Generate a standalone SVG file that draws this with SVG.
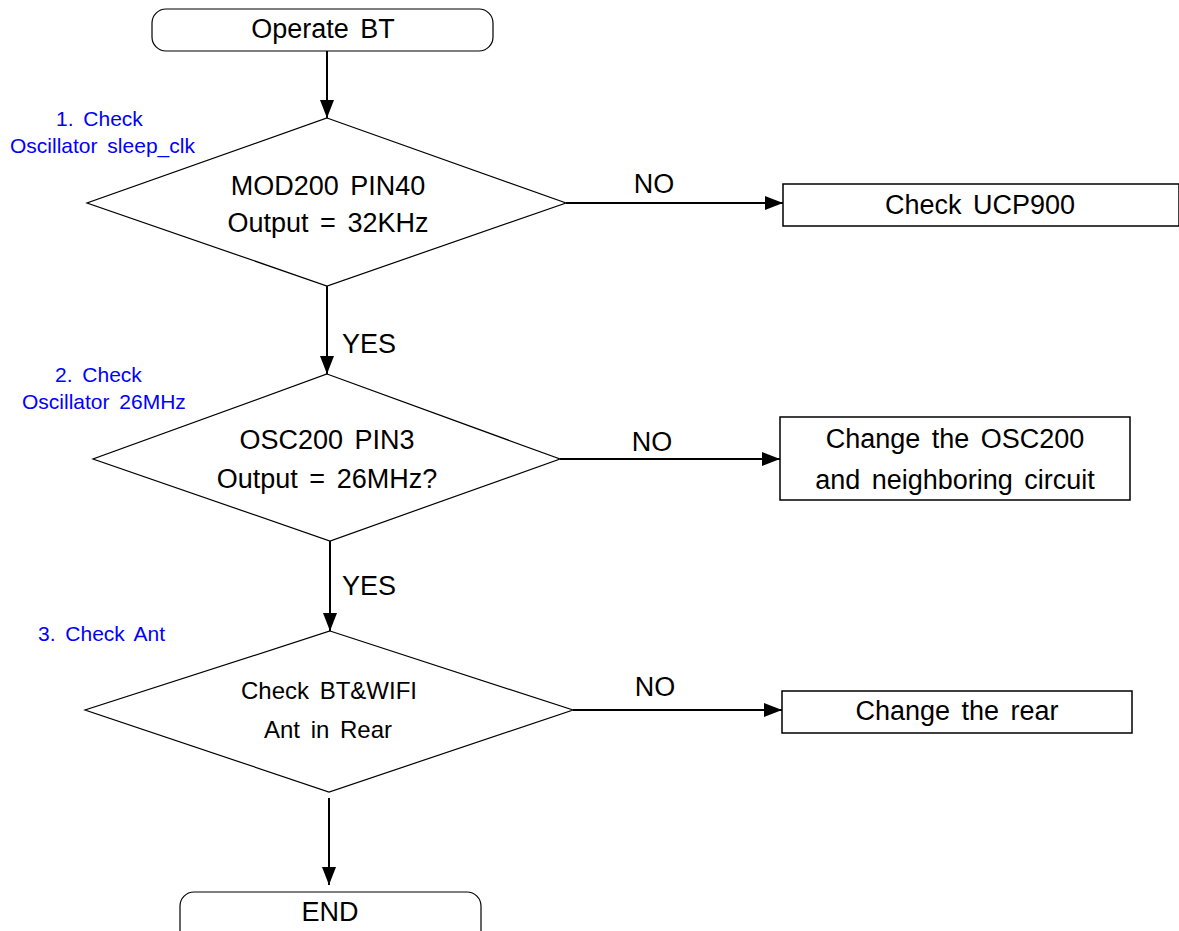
<svg xmlns="http://www.w3.org/2000/svg" width="1179" height="931" viewBox="0 0 1179 931">
<style>
  .shape { fill: #ffffff; stroke: #000000; stroke-width: 1.2; }
  .box { fill: #ffffff; stroke: #000000; stroke-width: 1.5; }
  .t { font-family: "Liberation Sans", Arial, sans-serif; font-size: 27px; fill: #000000; text-anchor: middle; word-spacing: 4px; }
  .ts { font-family: "Liberation Sans", Arial, sans-serif; font-size: 24px; fill: #000000; text-anchor: middle; word-spacing: 4px; }
  .lbl { font-family: "Liberation Sans", Arial, sans-serif; font-size: 21px; fill: #0000ff; word-spacing: 4px; }
  .c { fill: none; stroke: #000000; stroke-width: 2; }
</style>
<defs>
  <marker id="arr" markerUnits="userSpaceOnUse" markerWidth="18" markerHeight="14" refX="18" refY="7" orient="auto">
    <path d="M0,0 L18,7 L0,14 Z" fill="#000000"/>
  </marker>
</defs>
<rect width="1179" height="931" fill="#ffffff"/>

<g id="connectors">
  <path class="c" d="M327,51 L327,118" marker-end="url(#arr)"/>
  <path class="c" d="M327,286 L327,374" marker-end="url(#arr)"/>
  <path class="c" d="M330,541 L330,631" marker-end="url(#arr)"/>
  <path class="c" d="M329,798 L329,885" stroke-width="3" marker-end="url(#arr)"/>
  <path class="c" d="M566,203 L783,203" stroke-width="1.6" marker-end="url(#arr)"/>
  <path class="c" d="M560,459 L780,459" marker-end="url(#arr)"/>
  <path class="c" d="M573,710 L782,710" marker-end="url(#arr)"/>
  <text class="t" x="654" y="193">NO</text>
  <text class="t" x="652" y="451">NO</text>
  <text class="t" x="655" y="696">NO</text>
  <text class="t" x="369" y="353">YES</text>
  <text class="t" x="369" y="595">YES</text>
</g>

<g id="start">
  <rect class="shape" x="152" y="9" width="341" height="42" rx="14" ry="14"/>
  <text class="t" x="323" y="38">Operate BT</text>
</g>

<g id="label1">
  <text class="lbl" x="56" y="126">1. Check</text>
  <text class="lbl" x="10" y="153">Oscillator sleep_clk</text>
</g>

<g id="decision1">
  <polygon class="shape" points="327,118 566,203 327,286 87,203"/>
  <text class="t" x="328" y="195">MOD200 PIN40</text>
  <text class="t" x="328" y="232">Output = 32KHz</text>
</g>

<g id="box1">
  <rect class="box" x="783" y="184" width="396" height="42"/>
  <text class="t" x="980" y="214">Check UCP900</text>
</g>

<g id="label2">
  <text class="lbl" x="55" y="382">2. Check</text>
  <text class="lbl" x="22" y="409">Oscillator 26MHz</text>
</g>

<g id="decision2">
  <polygon class="shape" points="327,374 560,459 330,541 93,459"/>
  <text class="t" x="327" y="449">OSC200 PIN3</text>
  <text class="t" x="327" y="488">Output = 26MHz?</text>
</g>

<g id="box2">
  <rect class="box" x="780" y="417" width="350" height="83"/>
  <text class="t" x="955" y="448">Change the OSC200</text>
  <text class="t" x="955" y="489">and neighboring circuit</text>
</g>

<g id="label3">
  <text class="lbl" x="38" y="641">3. Check Ant</text>
</g>

<g id="decision3">
  <polygon class="shape" points="330,631 573,710 329,792 85,710"/>
  <text class="ts" x="329" y="699">Check BT&amp;WIFI</text>
  <text class="ts" x="328" y="738">Ant in Rear</text>
</g>

<g id="box3">
  <rect class="box" x="782" y="691" width="350" height="42"/>
  <text class="t" x="957" y="720">Change the rear</text>
</g>

<g id="end">
  <rect class="shape" x="180" y="892" width="301" height="60" rx="14" ry="14"/>
  <text class="t" x="330" y="921">END</text>
</g>
</svg>
